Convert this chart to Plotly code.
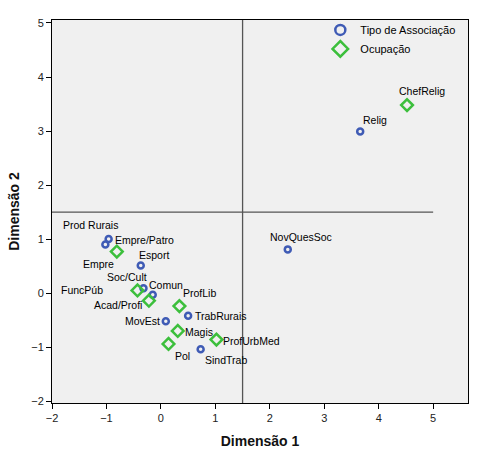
import plotly.graph_objects as go

# Tipo de Associação (blue circles)
assoc_labels = ["Prod Rurais", "Empre", "Esport", "Soc/Cult", "Comun", "TrabRurais",
                "MovEst", "SindTrab", "NovQuesSoc", "Relig"]
assoc_x = [-0.96, -1.02, -0.37, -0.32, -0.15, 0.50, 0.09, 0.73, 2.33, 3.66]
assoc_y = [1.00, 0.90, 0.51, 0.09, -0.03, -0.42, -0.52, -1.04, 0.81, 2.99]

# Ocupação (green diamonds)
ocup_labels = ["Empre/Patro", "FuncPúb", "Acad/Profi", "ProfLib", "Magis", "Pol",
               "ProfUrbMed", "ChefRelig"]
ocup_x = [-0.81, -0.43, -0.22, 0.34, 0.31, 0.14, 1.02, 4.52]
ocup_y = [0.77, 0.05, -0.14, -0.24, -0.70, -0.94, -0.86, 3.48]

x_ticks = [-2, -1, 0, 1, 2, 3, 4, 5]
y_ticks = [-2, -1, 0, 1, 2, 3, 4, 5]
ref_x = 1.5
ref_y = 1.5

BLUE = "#3F5BB5"
GREEN = "#3CBF3C"

# label placement (pixel offsets, anchor)
assoc_off = [(-48, 14, "left"), (-24, -19, "left"), (-4, 11, "left"), (-38, 11, "left"),
             (-6, 10, "left"), (5, 0, "left"), (-4, 0, "right"), (2, -11, "left"),
             (-20, 12, "left"), (1, 12, "left")]
ocup_off = [(-4, 12, "left"), (-32, 0, "right"), (-5, -4, "right"), (2, 13, "left"),
            (5, -1, "left"), (4, -12, "left"), (5, -1, "left"), (-10, 14, "left")]

fig = go.Figure()
fig.add_trace(go.Scatter(x=assoc_x, y=assoc_y, mode="markers", showlegend=False,
                         marker=dict(symbol="circle-open", size=6, color=BLUE,
                                     line=dict(width=2.5, color=BLUE))))
fig.add_trace(go.Scatter(x=ocup_x, y=ocup_y, mode="markers", showlegend=False,
                         marker=dict(symbol="diamond-open", size=9, color=GREEN,
                                     line=dict(width=2.5, color=GREEN))))
# legend entries
fig.add_trace(go.Scatter(x=[None], y=[None], mode="markers", name="Tipo de Associação",
                         marker=dict(symbol="circle-open", size=10, color=BLUE,
                                     line=dict(width=2.5, color=BLUE))))
fig.add_trace(go.Scatter(x=[None], y=[None], mode="markers", name="Ocupação",
                         marker=dict(symbol="diamond-open", size=12, color=GREEN,
                                     line=dict(width=2.5, color=GREEN))))

annots = []
for lab, x, y, (dx, dy, anc) in zip(assoc_labels + ocup_labels, assoc_x + ocup_x,
                                    assoc_y + ocup_y, assoc_off + ocup_off):
    annots.append(dict(x=x, y=y, xref="x", yref="y", text=lab, showarrow=False,
                       xshift=dx, yshift=dy, xanchor=anc, yanchor="middle",
                       font=dict(family="Liberation Sans, Arial", size=10.5, color="black")))

fig.add_shape(type="line", x0=-2, x1=5, y0=ref_y, y1=ref_y, xref="x", yref="y",
              line=dict(color="#555555", width=1.3))
fig.add_shape(type="line", x0=ref_x, x1=ref_x, y0=0, y1=1, xref="x", yref="paper",
              line=dict(color="#555555", width=1.3))

fig.update_layout(
    width=498, height=458,
    margin=dict(l=52, r=30, t=20, b=55),
    paper_bgcolor="white", plot_bgcolor="#F0F0F0",
    font=dict(family="Liberation Sans, Arial", size=11, color="#222222"),
    annotations=annots,
    showlegend=True,
    legend=dict(x=0.645, y=1.012, xanchor="left", yanchor="top",
                bgcolor="rgba(0,0,0,0)", borderwidth=0,
                font=dict(size=11, color="black"), itemwidth=30,
                tracegroupgap=0),
    xaxis=dict(range=[-2, 5.64], tickvals=x_ticks, showgrid=False, zeroline=False,
               showline=True, linecolor="black", linewidth=1, mirror=True,
               ticks="outside", ticklen=5, tickcolor="black", automargin=False,
               title=dict(text="<b>Dimensão 1</b>", font=dict(size=14, color="#111111"),
                          standoff=12)),
    yaxis=dict(range=[-2.033, 5.055], tickvals=y_ticks, showgrid=False, zeroline=False,
               showline=True, linecolor="black", linewidth=1, mirror=True,
               ticks="outside", ticklen=5, tickcolor="black", automargin=False,
               title=dict(text="<b>Dimensão 2</b>", font=dict(size=14, color="#111111"),
                          standoff=8)),
)

fig.write_html("out.html", config={"displayModeBar": False},
               post_script="document.body.style.margin='0';")
